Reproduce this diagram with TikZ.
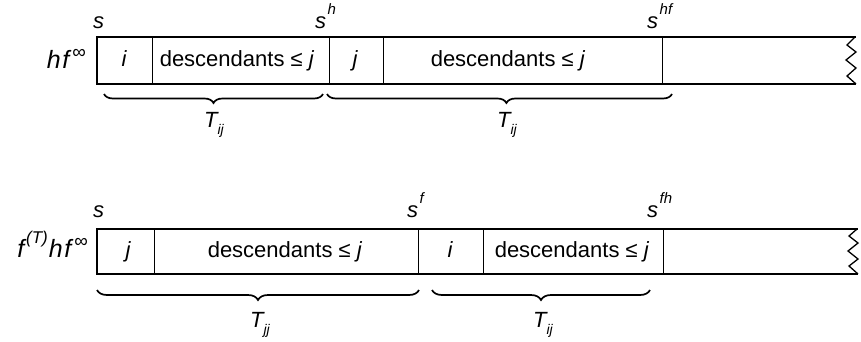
\documentclass[tikz,border=0pt]{standalone}
\usepackage{fontspec}
\setmainfont{Liberation Sans}
\usetikzlibrary{decorations.pathreplacing}
\newcommand\lbsz{\fontsize{22}{24}\selectfont}
\newcommand\rowsz{\fontsize{25}{27}\selectfont}
\newcommand\supx[1]{\hspace{1.5pt}\raisebox{0.6em}{\fontsize{15}{15}\selectfont #1}}
\newcommand\supT{\hspace{2pt}\raisebox{0.55em}{\fontsize{17}{17}\selectfont (T)}}
\newcommand\infx{\hspace{3pt}\raisebox{0.38em}{\fontsize{19}{19}\selectfont\upshape ∞}}
\newcommand\subx[1]{\raisebox{-0.32em}{\fontsize{14}{14}\selectfont #1}}
\tikzset{
  lab/.style={inner sep=0pt, font=\lbsz\itshape, anchor=base west},
  rowlab/.style={inner sep=0pt, font=\rowsz\itshape, anchor=base east},
  cell/.style={inner sep=0pt, font=\lbsz, anchor=base},
  bar/.style={line width=1.9pt},
  divline/.style={line width=0.9pt},
  zig/.style={line width=1.3pt, line join=miter},
  brc/.style={decorate, decoration={brace, mirror, amplitude=10pt}, line width=1.7pt},
}
\begin{document}
\begin{tikzpicture}[x=1pt,y=-1pt]
\useasboundingbox (0,0) rectangle (861,341);
% ---------- top bar ----------
\draw[bar] (97,37) -- (856,37);
\draw[bar] (97,84) -- (856,84);
\draw[bar] (97,36) -- (97,85);
\foreach \x in {152,329,383,662} \draw[divline] (\x,37) -- (\x,84);
\draw[zig] (855,37) -- (847,45) -- (856,52) -- (846,60) -- (856,68) -- (847,76) -- (856,84);
\node[rowlab] (rowA) at (86,68) {h\kern1.5pt f\infx};
\node[lab] (sA0) at (93,28) {s};
\node[lab] (sA1) at (315,28) {s\supx{h}};
\node[lab] (sA2) at (647,28) {s\supx{hf}};
\node[cell] (cA1) at (124,66) {\itshape i};
\node[cell] (cA2) at (237,66) {descendants ≤ \textit{j}};
\node[cell] (cA3) at (355,66) {\itshape j};
\node[cell] (cA4) at (508,66) {descendants ≤ \textit{j}};
\draw[brc, decoration={amplitude=9pt}] (104,94) -- (323,94);
\draw[brc, decoration={amplitude=9pt, aspect=0.52}] (327,94) -- (672,94);
\node[lab, anchor=base] (TA1) at (214,127) {T\subx{ij}};
\node[lab, anchor=base] (TA2) at (507,127) {T\subx{ij}};
% ---------- bottom bar ----------
\draw[bar] (97,229) -- (858,229);
\draw[bar] (97,274) -- (858,274);
\draw[bar] (97,228) -- (97,275);
\foreach \x in {154,418,483,663} \draw[divline] (\x,229) -- (\x,274);
\draw[zig] (857,229) -- (849,236) -- (858,243) -- (848,251) -- (858,259) -- (849,266) -- (858,274);
\node[rowlab] (rowB) at (88,257) {f\supT\kern1pt h\kern1.5pt f\infx};
\node[lab] (sB0) at (93,217) {s};
\node[lab] (sB1) at (407,217) {s\supx{f}};
\node[lab] (sB2) at (647,217) {s\supx{fh}};
\node[cell] (cB1) at (128,257) {\itshape j};
\node[cell] (cB2) at (285,257) {descendants ≤ \textit{j}};
\node[cell] (cB3) at (450,257) {\itshape i};
\node[cell] (cB4) at (572,257) {descendants ≤ \textit{j}};
\draw[brc] (97,290) -- (419,290);
\draw[brc] (432,290) -- (650,290);
\node[lab, anchor=base] (TB1) at (260,327) {T\subx{jj}};
\node[lab, anchor=base] (TB2) at (543,327) {T\subx{ij}};
\end{tikzpicture}
\end{document}
